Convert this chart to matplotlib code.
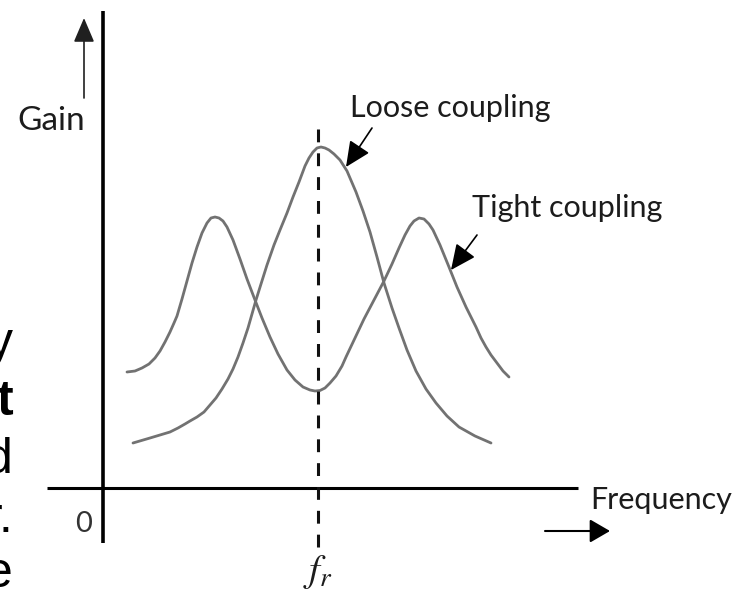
import matplotlib
matplotlib.use("Agg")
import matplotlib.pyplot as plt

# ---- data (frequency in arbitrary units from the Gain axis, gain in arbitrary units) ----
loose_freq = [30, 47, 57, 67, 75, 82, 87, 94, 101, 107, 113, 119, 125, 130, 135, 140, 145,
              149, 153, 158, 164, 171, 177, 184, 190, 196, 202, 206, 210, 214, 218, 222, 226,
              231, 237, 244, 253, 260, 267, 274, 281, 289, 296, 304, 313, 323, 333, 344, 356,
              372, 388]
loose_gain = [45, 50, 53, 56, 60, 64, 67, 71, 76, 83, 90, 99, 109, 119, 131, 145, 160,
              174, 188, 204, 223, 243, 258, 275, 291, 306, 322, 330, 336, 340, 341, 340, 338,
              334, 328, 317, 296, 277, 256, 231, 205, 180, 160, 138, 117, 99, 85, 72, 61,
              52, 45]

tight_freq = [24, 32, 39, 46, 52, 57, 62, 67, 71, 74, 79, 84, 89, 94, 99, 104, 108, 112, 116,
              120, 124, 130, 137, 144, 152, 159, 167, 175, 184, 192, 200, 207, 212, 217, 222,
              227, 233, 239, 243, 252, 261, 271, 281, 289, 296, 302, 307, 311, 316, 321, 326,
              330, 337, 346, 354, 363, 373, 378, 383, 388, 394, 400, 406]
tight_gain = [116, 117, 120, 124, 130, 137, 146, 156, 165, 172, 189, 207, 225, 241, 255, 265,
              270, 271, 270, 267, 261, 248, 229, 209, 188, 170, 151, 134, 118, 108, 101, 98,
              97, 97.5, 100, 105, 112, 122, 131, 150, 169, 188, 207, 224, 240, 253, 262, 267,
              270, 269, 264, 258, 243, 221, 201, 181, 161, 150, 141, 133, 125, 117, 111]

f_resonance = 215

labels = {
    "gain": "Gain",
    "freq": "Frequency",
    "zero": "0",
    "fr": r"$f_r$",
    "loose": "Loose coupling",
    "tight": "Tight coupling",
}
side_fragments = ["y", "t", "d", "r.", "e"]

# ---- figure ----
W, H = 747, 594
fig = plt.figure(figsize=(W / 100, H / 100), dpi=100)
ax = fig.add_axes([0, 0, 1, 1])
ax.set_xlim(-103, W - 103)
ax.set_ylim(488 - H, 488)
ax.axis("off")

curve_color = "#727272"
text_color = "#1c1c1c"
label_font = "Lato"

# curves
ax.plot(loose_freq, loose_gain, color=curve_color, lw=2.0, solid_capstyle="round",
        solid_joinstyle="round")
ax.plot(tight_freq, tight_gain, color=curve_color, lw=2.0, solid_capstyle="round",
        solid_joinstyle="round")

# axes lines
ax.plot([0, 0], [-55, 477], color="black", lw=2.6, solid_capstyle="butt")
ax.plot([-56, 475], [0, 0], color="black", lw=2.2, solid_capstyle="butt")

# resonance dashed line
ax.plot([f_resonance, f_resonance], [-59, 361], color="#111111", lw=2.2,
        linestyle=(0, (4.2, 3.6)), dash_capstyle="butt")

def arrow(tail, tip, lw, hl, hw, color="black"):
    ax.annotate("", xy=tip, xytext=tail,
                arrowprops=dict(arrowstyle=f"-|>,head_length={hl},head_width={hw}",
                                lw=lw, color=color, shrinkA=0, shrinkB=0,
                                mutation_scale=20))

# Gain arrow
arrow((-19, 390), (-19, 470), 1.2, 0.75, 0.32, color="#202020")
# Frequency arrow
arrow((442, -43), (507, -43), 1.5, 0.62, 0.36)
# Loose coupling pointer
arrow((269, 360), (243, 321), 1.2, 0.78, 0.36)
# Tight coupling pointer
arrow((374, 253), (348, 218), 1.2, 0.78, 0.36)

# labels
ax.text(-86, 358, labels["gain"], fontsize=24, family=label_font, color=text_color,
        ha="left", va="baseline")
ax.text(247, 371, labels["loose"], fontsize=22, family=label_font, color=text_color,
        ha="left", va="baseline")
ax.text(369, 271, labels["tight"], fontsize=22, family=label_font, color=text_color,
        ha="left", va="baseline")
ax.text(487, -21, labels["freq"], fontsize=22, family=label_font, color=text_color,
        ha="left", va="baseline")
ax.text(-19.5, -44, labels["zero"], fontsize=21, family=label_font, color="#333333",
        ha="center", va="baseline")
plt.rcParams["mathtext.fontset"] = "stix"
ax.text(f_resonance, -84, labels["fr"], fontsize=28, color=text_color,
        ha="center", va="center")

# cropped paragraph fragments at the left edge
frag_baselines = [357, 415, 473, 532, 587]
for txt, yb in zip(side_fragments, frag_baselines):
    fig.text(13 / W, 1 - yb / H, txt, fontsize=36, family="Liberation Sans",
             fontweight="bold" if txt == "t" else "normal", color="black",
             ha="right", va="baseline")

fig.savefig("out.png", dpi=100)
